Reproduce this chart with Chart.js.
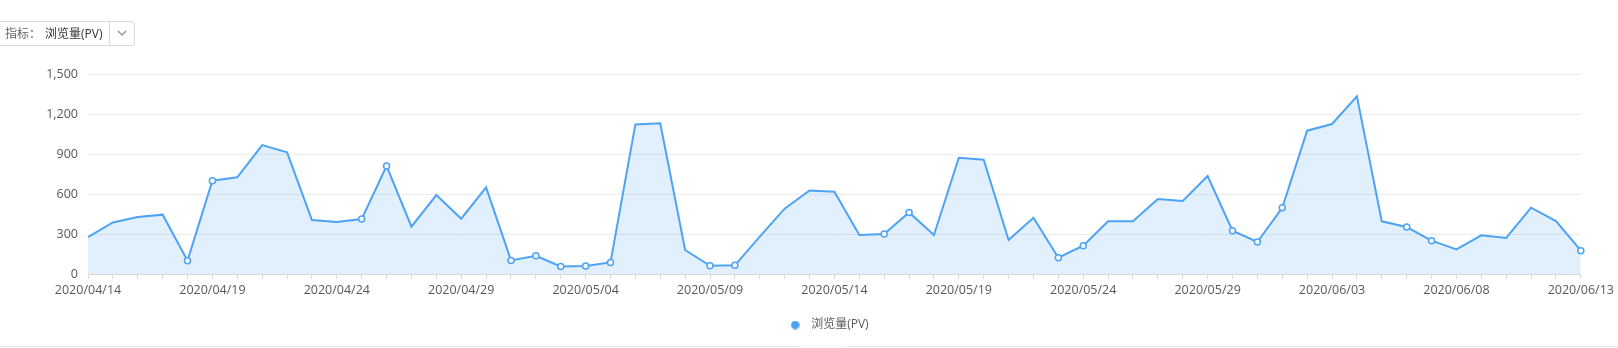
<!DOCTYPE html>
<html>
<head>
<meta charset="utf-8">
<script src="https://cdn.jsdelivr.net/npm/chart.js@4.4.1/dist/chart.umd.min.js"></script>
<style>
  html, body { margin: 0; padding: 0; background: #fff; }
  body { width: 1618px; height: 348px; position: relative; overflow: hidden;
         font-family: "Open Sans", "Noto Sans CJK SC", sans-serif; }
  #wrap { position: absolute; left: 0; top: 0; width: 1618px; height: 348px; }
  #sel { position: absolute; left: -4px; top: 21px; width: 137px; height: 23px;
         border: 1px solid #d9d9d9; border-radius: 3px; font-size: 12px; line-height: 23px; }
  #sel .lab { position: absolute; left: 8px; top: 0; color: #666; }
  #sel .val { position: absolute; left: 48px; top: 0; color: #333; }
  #sel .sep { position: absolute; left: 112px; top: 0; width: 1px; height: 23px; background: #d9d9d9; }
  #sel svg { position: absolute; left: 120px; top: 8px; }
  .hr { position: absolute; top: 346px; height: 1px; background: #e8e8e8; }
</style>
</head>
<body>
<div id="wrap"><canvas id="c" width="1618" height="348"></canvas></div>
<div id="sel">
  <span class="lab">指标：</span><span class="val">浏览量(PV)</span>
  <span class="sep"></span>
  <svg width="10" height="7" viewBox="0 0 10 7"><path d="M1 1 L5 5 L9 1" fill="none" stroke="#999" stroke-width="1.5"/></svg>
</div>
<div class="hr" style="left:0;width:799px"></div>
<div class="hr" style="left:799px;width:48px;background:#f7f7f7"></div>
<div class="hr" style="left:847px;width:771px"></div>
<script>
const seriesName = '浏览量(PV)';
const dates = [
  '2020/04/14','2020/04/15','2020/04/16','2020/04/17','2020/04/18','2020/04/19','2020/04/20',
  '2020/04/21','2020/04/22','2020/04/23','2020/04/24','2020/04/25','2020/04/26','2020/04/27',
  '2020/04/28','2020/04/29','2020/04/30','2020/05/01','2020/05/02','2020/05/03','2020/05/04',
  '2020/05/05','2020/05/06','2020/05/07','2020/05/08','2020/05/09','2020/05/10','2020/05/11',
  '2020/05/12','2020/05/13','2020/05/14','2020/05/15','2020/05/16','2020/05/17','2020/05/18',
  '2020/05/19','2020/05/20','2020/05/21','2020/05/22','2020/05/23','2020/05/24','2020/05/25',
  '2020/05/26','2020/05/27','2020/05/28','2020/05/29','2020/05/30','2020/05/31','2020/06/01',
  '2020/06/02','2020/06/03','2020/06/04','2020/06/05','2020/06/06','2020/06/07','2020/06/08',
  '2020/06/09','2020/06/10','2020/06/11','2020/06/12','2020/06/13'
];
const pv = [
  277, 387, 427, 445, 100, 700, 725,
  967, 912, 405, 390, 412, 810, 355,
  592, 415, 650, 102, 137, 57, 60,
  87, 1122, 1130, 180, 62, 65, 280,
  490, 627, 617, 292, 300, 462, 292,
  872, 857, 255, 422, 122, 212, 395,
  395, 562, 547, 735, 325, 240, 497,
  1075, 1125, 1332, 395, 352, 250, 185,
  290, 270, 497, 397, 175
];
const markedDates = [
  '2020/04/18','2020/04/19','2020/04/25','2020/04/26','2020/05/01','2020/05/02','2020/05/03',
  '2020/05/04','2020/05/05','2020/05/09','2020/05/10','2020/05/16','2020/05/17','2020/05/23',
  '2020/05/24','2020/05/30','2020/05/31','2020/06/01','2020/06/06','2020/06/07','2020/06/13'
];
const yTicks = [0, 300, 600, 900, 1200, 1500];
const xLabelEvery = 5;

const lineColor = '#4DA3F5';
const tickFont = { size: 12.5, family: '"Open Sans", "Noto Sans CJK SC", sans-serif' };

// small round legend marker
const legendDot = document.createElement('canvas');
legendDot.width = 9; legendDot.height = 9;
(function () {
  const g = legendDot.getContext('2d');
  g.fillStyle = lineColor;
  g.beginPath(); g.arc(4.5, 4.5, 4.3, 0, Math.PI * 2); g.fill();
})();

// centre the legend under the plot area rather than the whole canvas
const legendUnderPlot = {
  id: 'legendUnderPlot',
  afterLayout(chart) {
    const lg = chart.legend;
    if (!lg) return;
    lg.left = chart.chartArea.left;
    lg.right = chart.chartArea.right - 15;
    lg.width = lg.right - lg.left;
    lg.adjustHitBoxes();
  }
};

new Chart(document.getElementById('c'), {
  type: 'line',
  data: {
    labels: dates,
    datasets: [{
      label: seriesName,
      data: pv,
      borderColor: lineColor,
      backgroundColor: 'rgba(77,163,245,0.16)',
      borderWidth: 2,
      fill: 'origin',
      tension: 0,
      pointRadius: ctx => markedDates.includes(dates[ctx.dataIndex]) ? 3 : 0,
      pointBorderWidth: 1.5,
      pointBackgroundColor: '#fff',
      pointBorderColor: lineColor,
      pointHoverRadius: 0
    }]
  },
  plugins: [legendUnderPlot],
  options: {
    responsive: false,
    animation: false,
    events: [],
    layout: { padding: { left: 0, right: 36, top: 74, bottom: 7 } },
    plugins: {
      tooltip: { enabled: false },
      legend: {
        display: true,
        position: 'bottom',
        labels: {
          usePointStyle: true,
          pointStyle: legendDot,
          pointStyleWidth: 20,
          boxHeight: 9,
          padding: 10,
          color: '#595959',
          font: { size: 12, family: '"Open Sans", "Noto Sans CJK SC", sans-serif' },
          generateLabels: chart => [{
            text: seriesName,
            fillStyle: lineColor,
            strokeStyle: lineColor,
            lineWidth: 0,
            pointStyle: legendDot,
            datasetIndex: 0,
            fontColor: '#595959'
          }]
        }
      }
    },
    scales: {
      x: {
        type: 'category',
        offset: false,
        afterFit: s => { s.height = 35; },
        grid: { display: true, drawOnChartArea: false, drawTicks: true, tickLength: 5, color: '#d9d9d9' },
        border: { display: true, color: '#d9d9d9', width: 1 },
        ticks: {
          autoSkip: false,
          maxRotation: 0,
          padding: 4,
          color: '#595959',
          font: tickFont,
          callback: (v, i) => (i % xLabelEvery === 0 ? dates[i] : '')
        }
      },
      y: {
        min: yTicks[0],
        max: yTicks[yTicks.length - 1],
        afterFit: s => { s.width = 88; },
        afterBuildTicks: s => { s.ticks = yTicks.map(v => ({ value: v })); },
        grid: { color: '#ececec', drawTicks: false, lineWidth: 1 },
        border: { display: false },
        ticks: {
          padding: 10,
          color: '#595959',
          font: tickFont,
          callback: v => v.toLocaleString('en-US')
        }
      }
    }
  }
});
</script>
</body>
</html>
